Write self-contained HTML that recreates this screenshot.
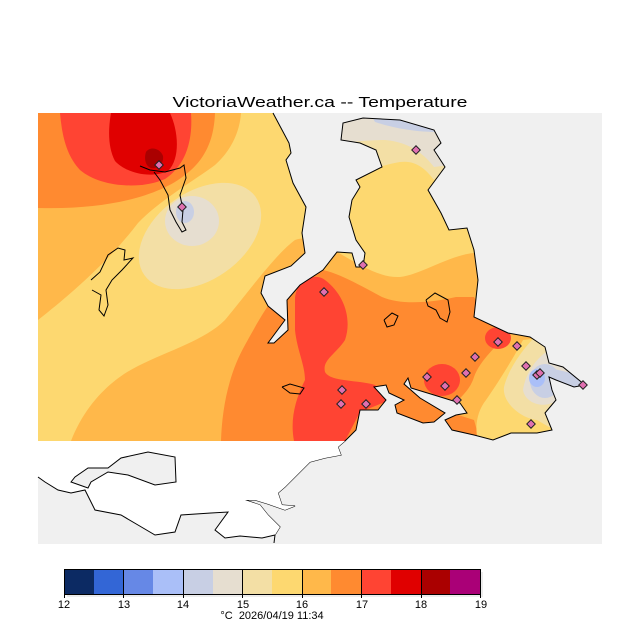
<!DOCTYPE html>
<html><head><meta charset="utf-8"><style>
html,body{margin:0;padding:0;background:#fff;}
svg{display:block;}
text{font-family:"Liberation Sans",sans-serif;}
</style></head><body>
<svg width="640" height="640" viewBox="0 0 640 640" xmlns="http://www.w3.org/2000/svg">
<rect width="640" height="640" fill="#fff"/>
<text x="320" y="107" font-size="15" text-anchor="middle" textLength="295" lengthAdjust="spacingAndGlyphs" fill="#000">VictoriaWeather.ca -- Temperature</text>
<rect x="38" y="113" width="564" height="431" fill="#f0f0f0"/>
<defs>
<clipPath id="land"><polygon points="38,113 273,113 289,143 291,153 286,160 293,183 306,207 302,233 305,253 291,266 265,276 261,293 268,306 285,320 268,343 274,343 288,330 287,300 300,285 323,270 337,252 352,253 356,267 363,267 365,253 356,240 349,217 352,200 360,187 356,180 382,167 376,150 360,143 341,140 343,123 363,118 400,120 434,130 441,143 434,150 445,167 428,190 441,213 449,230 467,228 474,250 478,280 474,317 508,333 530,337 545,347 549,363 563,367 585,385 574,387 556,380 549,377 552,390 556,400 545,413 552,430 537,433 511,433 493,440 474,435 452,430 445,420 456,415 467,413 460,403 434,395 411,388 408,378 404,384 420,398 445,413 434,422 423,423 397,413 395,405 404,400 389,393 386,385 374,387 386,400 378,410 360,410 356,430 345,441 38,441"/></clipPath>
</defs>
<g clip-path="url(#land)">
<rect x="38" y="113" width="564" height="330" fill="#ffb84a"/>
<path fill="#fdd870" d="M38,320 C70,295 110,260 138,223 C160,200 195,180 215,165 C232,150 240,130 241,113 L602,113 L602,253 L474,253 C450,255 420,275 400,277 C380,278 360,265 337,252 C320,240 305,236 295,240 C275,255 250,290 225,320 C205,340 170,350 138,366 C110,380 85,405 71,441 L38,441 Z"/>
<path fill="#ff8a30" d="M38,113 L215,113 C214,140 205,160 185,175 C160,195 110,210 38,208 Z"/>
<path fill="#ff4433" d="M60,113 L191,113 C193,140 186,165 165,179 C140,190 100,187 80,170 C66,155 62,135 60,113 Z"/>
<path fill="#e00000" d="M111,113 L170,113 C178,130 181,158 168,171 C150,179 126,173 115,161 C108,148 108,130 111,113 Z"/>
<path fill="#aa0000" d="M146,152 C150,146 160,148 163,156 C164,164 158,169 151,168 C145,166 144,158 146,152 Z"/>
<ellipse cx="200" cy="236" rx="68" ry="44" transform="rotate(-35 200 236)" fill="#f3dfa5"/>
<ellipse cx="192" cy="221" rx="27" ry="25" fill="#e6ded0"/>
<ellipse cx="185" cy="212" rx="9" ry="11" fill="#c8cfe4"/>
<path fill="#ff8a30" d="M221,441 C222,410 228,375 245,345 C260,318 280,280 305,270 C325,265 350,280 382,297 C400,305 430,303 456,297 L474,297 C485,315 495,328 508,333 C498,345 480,360 474,377 C470,390 460,398 456,402 L452,413 L474,420 L480,441 Z"/>
<path fill="#fdd870" d="M523,340 C515,355 500,380 486,400 C478,410 474,425 478,441 L602,441 L602,330 Z"/>
<path fill="#f3dfa5" d="M534,338 C522,350 508,370 504,387 C502,402 520,418 537,420 L549,427 L602,427 L602,330 Z"/>
<path fill="#e6ded0" d="M545,353 C535,360 525,375 523,390 C525,402 540,408 552,403 L602,400 L602,340 Z"/>
<ellipse cx="545" cy="381" rx="15" ry="17" fill="#c8cfe4"/>
<polygon fill="#c8cfe4" points="550,368 592,378 592,394 552,392"/>
<ellipse cx="537" cy="378" rx="8" ry="9" fill="#aabff8"/>
<path fill="#ff4433" d="M295,300 C295,280 315,272 325,280 C345,295 352,320 345,340 C335,355 322,360 325,372 C330,382 360,380 375,385 L390,400 L360,412 L345,441 L294,441 C290,420 295,400 305,380 C305,365 297,350 295,330 Z"/>
<ellipse cx="498" cy="338" rx="13" ry="11" fill="#ff4433"/>
<ellipse cx="442" cy="380" rx="18" ry="16" fill="#ff4433"/>
<path fill="#f3dfa5" d="M330,113 L450,113 L450,173 L441,173 L434,180 C425,168 415,160 400,162 C380,165 360,175 330,180 Z"/>
<path fill="#e6ded0" d="M330,113 L450,113 L450,165 L434,167 C425,155 410,142 385,140 C365,140 348,143 330,143 Z"/>
<path fill="#c8cfe4" d="M370,113 L440,113 L440,132 C420,132 400,130 375,122 Z"/>
</g>
<polyline fill="none" stroke="#000" stroke-width="1" points="273,113 289,143 291,153 286,160 293,183 306,207 302,233 305,253 291,266 265,276 261,293 268,306 285,320 268,343 274,343 288,330 287,300 300,285 323,270 337,252 352,253 356,267 363,267 365,253 356,240 349,217 352,200 360,187 356,180 382,167 376,150 360,143 341,140 343,123 363,118 400,120 434,130 441,143 434,150 445,167 428,190 441,213 449,230 467,228 474,250 478,280 474,317 508,333 530,337 545,347 549,363 563,367 585,385 574,387 556,380 549,377 552,390 556,400 545,413 552,430 537,433 511,433 493,440 474,435 452,430 445,420 456,415 467,413 460,403 434,395 411,388 408,378 404,384 420,398 445,413 434,422 423,423 397,413 395,405 404,400 389,393 386,385 374,387 386,400 378,410 360,410 356,430 345,441 338,447 341,455 325,458 310,462 300,472 285,487 278,493 282,505 295,506 285,510 268,504 255,500 245,500 260,505 268,515 280,527 275,535 274,543"/>
<polygon fill="#fff" stroke="none" points="38,441 345,441 338,447 341,455 325,458 310,462 300,472 285,487 278,493 282,505 295,506 285,510 268,504 255,500 245,500 260,505 268,515 280,527 275,535 262,538 240,536 225,538 215,530 228,512 211,513 181,515 175,532 155,535 138,525 121,515 95,510 85,490 71,493 58,490 45,482 38,477"/>
<polyline fill="none" stroke="#000" points="38,477 45,482 58,490 71,493 85,490 95,510 121,515 138,525 155,535 175,532 181,515 211,513 228,512 215,530 225,538 240,536 262,538 275,535"/>
<polygon fill="#f0f0f0" stroke="#000" points="71,482 75,477 88,468 108,468 121,458 148,452 175,457 176,482 155,485 128,475 108,472 91,482 88,488"/>
<polyline fill="none" stroke="#000" points="91,280 100,272 108,255 118,248 125,250 124,260 133,258 122,270 112,280 106,290 108,305 104,316 99,310 101,295 92,290"/>
<polyline fill="none" stroke="#000" points="140,166 150,170 165,172 180,168 184,165 186,178 180,195 183,210 182,222 186,230 182,232 176,222 170,210 168,195 160,180 154,172"/>
<polyline fill="none" stroke="#000" points="426,300 435,293 448,300 450,312 447,322 440,318 436,310 428,306 426,300"/>
<polyline fill="none" stroke="#000" points="384,320 392,313 398,316 394,325 387,327 384,320"/>
<polyline fill="none" stroke="#000" points="282,387 290,384 304,388 300,394 290,393 282,387"/>
<g fill="#e070b0" stroke="#222" stroke-width="1">
<g transform="translate(159,165) rotate(45)"><rect x="-3" y="-3" width="6" height="6"/></g>
<g transform="translate(182,207) rotate(45)"><rect x="-3" y="-3" width="6" height="6"/></g>
<g transform="translate(416,150) rotate(45)"><rect x="-3" y="-3" width="6" height="6"/></g>
<g transform="translate(363,265) rotate(45)"><rect x="-3" y="-3" width="6" height="6"/></g>
<g transform="translate(324,292) rotate(45)"><rect x="-3" y="-3" width="6" height="6"/></g>
<g transform="translate(498,342) rotate(45)"><rect x="-3" y="-3" width="6" height="6"/></g>
<g transform="translate(517,346) rotate(45)"><rect x="-3" y="-3" width="6" height="6"/></g>
<g transform="translate(475,357) rotate(45)"><rect x="-3" y="-3" width="6" height="6"/></g>
<g transform="translate(445,386) rotate(45)"><rect x="-3" y="-3" width="6" height="6"/></g>
<g transform="translate(466,373) rotate(45)"><rect x="-3" y="-3" width="6" height="6"/></g>
<g transform="translate(427,377) rotate(45)"><rect x="-3" y="-3" width="6" height="6"/></g>
<g transform="translate(526,366) rotate(45)"><rect x="-3" y="-3" width="6" height="6"/></g>
<g transform="translate(537,375) rotate(45)"><rect x="-3" y="-3" width="6" height="6"/></g>
<g transform="translate(540,373) rotate(45)"><rect x="-3" y="-3" width="6" height="6"/></g>
<g transform="translate(583,385) rotate(45)"><rect x="-3" y="-3" width="6" height="6"/></g>
<g transform="translate(457,400) rotate(45)"><rect x="-3" y="-3" width="6" height="6"/></g>
<g transform="translate(342,390) rotate(45)"><rect x="-3" y="-3" width="6" height="6"/></g>
<g transform="translate(341,404) rotate(45)"><rect x="-3" y="-3" width="6" height="6"/></g>
<g transform="translate(366,404) rotate(45)"><rect x="-3" y="-3" width="6" height="6"/></g>
<g transform="translate(531,424) rotate(45)"><rect x="-3" y="-3" width="6" height="6"/></g>
</g>
<rect x="67" y="572" width="416" height="25" fill="#ececec"/>
<g stroke="none">
<rect x="64" y="569" width="30" height="25" fill="#0c2a63"/>
<rect x="94" y="569" width="29" height="25" fill="#3366d6"/>
<rect x="123" y="569" width="30" height="25" fill="#6688e6"/>
<rect x="153" y="569" width="30" height="25" fill="#aabff8"/>
<rect x="183" y="569" width="30" height="25" fill="#c8cfe4"/>
<rect x="213" y="569" width="29" height="25" fill="#e6ded0"/>
<rect x="242" y="569" width="30" height="25" fill="#f3dfa5"/>
<rect x="272" y="569" width="30" height="25" fill="#fdd870"/>
<rect x="302" y="569" width="29" height="25" fill="#ffb84a"/>
<rect x="331" y="569" width="30" height="25" fill="#ff8a30"/>
<rect x="361" y="569" width="30" height="25" fill="#ff4433"/>
<rect x="391" y="569" width="30" height="25" fill="#e00000"/>
<rect x="421" y="569" width="29" height="25" fill="#aa0000"/>
<rect x="450" y="569" width="30" height="25" fill="#aa0077"/>
</g>
<rect x="64.5" y="569.5" width="416" height="25" fill="none" stroke="#000"/>
<g stroke="#000">
<line x1="123.5" y1="569" x2="123.5" y2="598"/><line x1="183.5" y1="569" x2="183.5" y2="598"/>
<line x1="242.5" y1="569" x2="242.5" y2="598"/><line x1="302.5" y1="569" x2="302.5" y2="598"/>
<line x1="361.5" y1="569" x2="361.5" y2="598"/><line x1="421.5" y1="569" x2="421.5" y2="598"/>
<line x1="64.5" y1="594" x2="64.5" y2="598"/><line x1="480.5" y1="594" x2="480.5" y2="598"/>
</g>
<g font-size="11" text-anchor="middle" fill="#000">
<text x="64" y="608">12</text><text x="124" y="608">13</text><text x="183" y="608">14</text>
<text x="243" y="608">15</text><text x="302" y="608">16</text><text x="362" y="608">17</text>
<text x="421" y="608">18</text><text x="481" y="608">19</text>
<text x="272" y="619" xml:space="preserve">°C  2026/04/19 11:34</text>
</g>
</svg>
</body></html>
